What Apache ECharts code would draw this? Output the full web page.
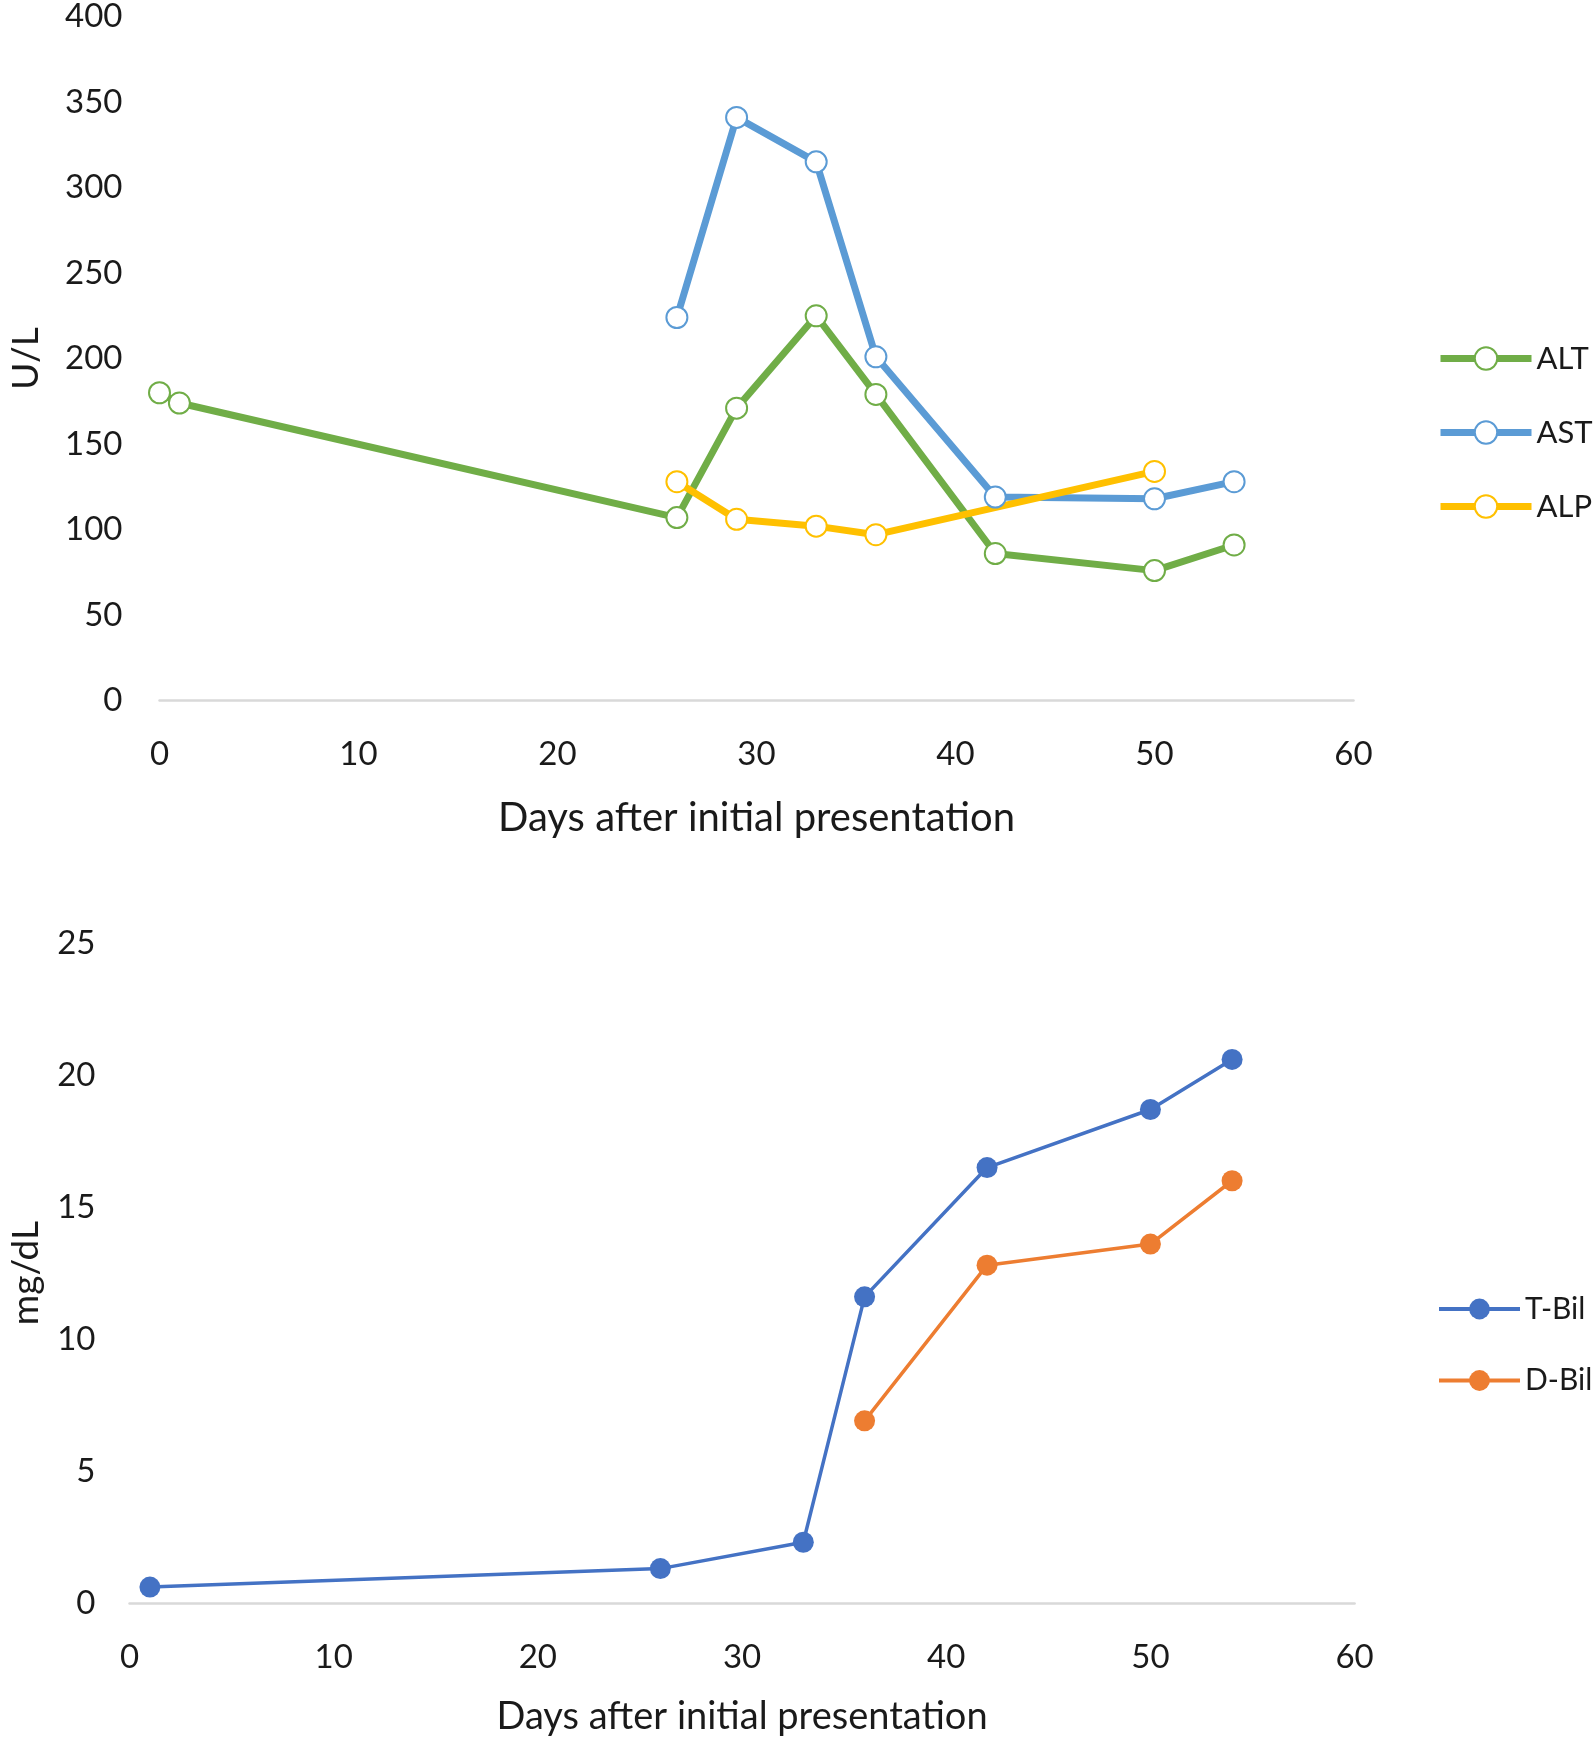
<!DOCTYPE html>
<html>
<head>
<meta charset="utf-8">
<script src="https://cdn.jsdelivr.net/npm/echarts@6/dist/echarts.min.js"></script>
<style>
html,body{margin:0;padding:0;background:#fff;}
#chart{width:1594px;height:1738px;}
</style>
</head>
<body>
<div id="chart"></div>
<script>
// ---- data ----
var altDays = [0, 1, 26, 29, 33, 36, 42, 50, 54];
var altVals = [180, 174, 107, 171, 225, 179, 86, 76, 91];
var astDays = [26, 29, 33, 36, 42, 50, 54];
var astVals = [224, 341, 315, 201, 119, 118, 128];
var alpDays = [26, 29, 33, 36, 50];
var alpVals = [128, 106, 102, 97, 134];
var tbilDays = [1, 26, 33, 36, 42, 50, 54];
var tbilVals = [0.6, 1.3, 2.3, 11.6, 16.5, 18.7, 20.6];
var dbilDays = [36, 42, 50, 54];
var dbilVals = [6.9, 12.8, 13.6, 16.0];
var xTitle = 'Days after initial presentation';
var topYTitle = 'U/L';
var botYTitle = 'mg/dL';

function pairs(xs, ys) { return xs.map(function (x, i) { return [x, ys[i]]; }); }

var FONT = 'Lato';
var tickStyle = { fontFamily: FONT, fontSize: 33, color: '#1a1a1a' };

function xAxisCfg(gridIndex, margin, gap, titleSize) {
  return {
    type: 'value', gridIndex: gridIndex, min: 0, max: 60, interval: 10,
    axisLine: { show: true, lineStyle: { color: '#d9d9d9', width: 2.5 } },
    axisTick: { show: false }, splitLine: { show: false },
    axisLabel: Object.assign({ margin: margin, lineHeight: 34 }, tickStyle),
    name: xTitle, nameLocation: 'middle', nameGap: gap,
    nameTextStyle: { fontFamily: FONT, fontSize: titleSize, color: '#1a1a1a', verticalAlign: 'middle' }
  };
}
function yAxisCfg(gridIndex, max, interval, name, gap, margin) {
  return {
    type: 'value', gridIndex: gridIndex, min: 0, max: max, interval: interval,
    axisLine: { show: false }, axisTick: { show: false }, splitLine: { show: false },
    axisLabel: Object.assign({ margin: margin }, tickStyle),
    name: name, nameLocation: 'middle', nameGap: gap, nameRotate: 90,
    nameTextStyle: { fontFamily: FONT, fontSize: 37, color: '#1a1a1a', verticalAlign: 'middle' }
  };
}
function emptySeries(name, data, color) {
  return {
    name: name, type: 'line', xAxisIndex: 0, yAxisIndex: 0, data: data,
    symbol: 'emptyCircle', symbolSize: 21, showAllSymbol: true,
    lineStyle: { color: color, width: 7 },
    itemStyle: { color: color, borderColor: color, borderWidth: 3 },
    emphasis: { disabled: true }, animation: false
  };
}
function fullSeries(name, data, color) {
  return {
    name: name, type: 'line', xAxisIndex: 1, yAxisIndex: 1, data: data,
    symbol: 'circle', symbolSize: 21, showAllSymbol: true,
    lineStyle: { color: color, width: 3.5 },
    itemStyle: { color: color },
    emphasis: { disabled: true }, animation: false
  };
}

var chart = echarts.init(document.getElementById('chart'), null, { renderer: 'canvas' });
chart.setOption({
  backgroundColor: '#ffffff',
  animation: false,
  grid: [
    { left: 157, right: 240.5, top: 13.3, height: 687.3 },
    { left: 125.3, right: 239.4, top: 943.3, height: 659.6 }
  ],
  xAxis: [xAxisCfg(0, 37, 117, 40), xAxisCfg(1, 37, 114, 38)],
  yAxis: [
    yAxisCfg(0, 400, 50, topYTitle, 133, 37),
    yAxisCfg(1, 25, 5, botYTitle, 103, 34)
  ],
  legend: [
    {
      data: ['ALT', 'AST', 'ALP'], orient: 'vertical', left: 1437, top: 343, padding: 0,
      itemWidth: 91, itemHeight: 28, itemGap: 43,
      lineStyle: { width: 7 },
      itemStyle: { borderWidth: 3 },
      textStyle: { fontFamily: FONT, fontSize: 31, color: '#1a1a1a', lineHeight: 28 },
      selectedMode: false
    },
    {
      data: ['T-Bil', 'D-Bil'], orient: 'vertical', left: 1437, top: 1294, padding: 0,
      itemWidth: 81, itemHeight: 26, itemGap: 41.5,
      lineStyle: { width: 4 },
      textStyle: { fontFamily: FONT, fontSize: 30, color: '#1a1a1a', lineHeight: 26 },
      selectedMode: false
    }
  ],
  series: [
    emptySeries('ALT', pairs(altDays, altVals), '#70AD47'),
    emptySeries('AST', pairs(astDays, astVals), '#5B9BD5'),
    emptySeries('ALP', pairs(alpDays, alpVals), '#FFC000'),
    fullSeries('T-Bil', pairs(tbilDays, tbilVals), '#4472C4'),
    fullSeries('D-Bil', pairs(dbilDays, dbilVals), '#ED7D31')
  ]
});
</script>
</body>
</html>
